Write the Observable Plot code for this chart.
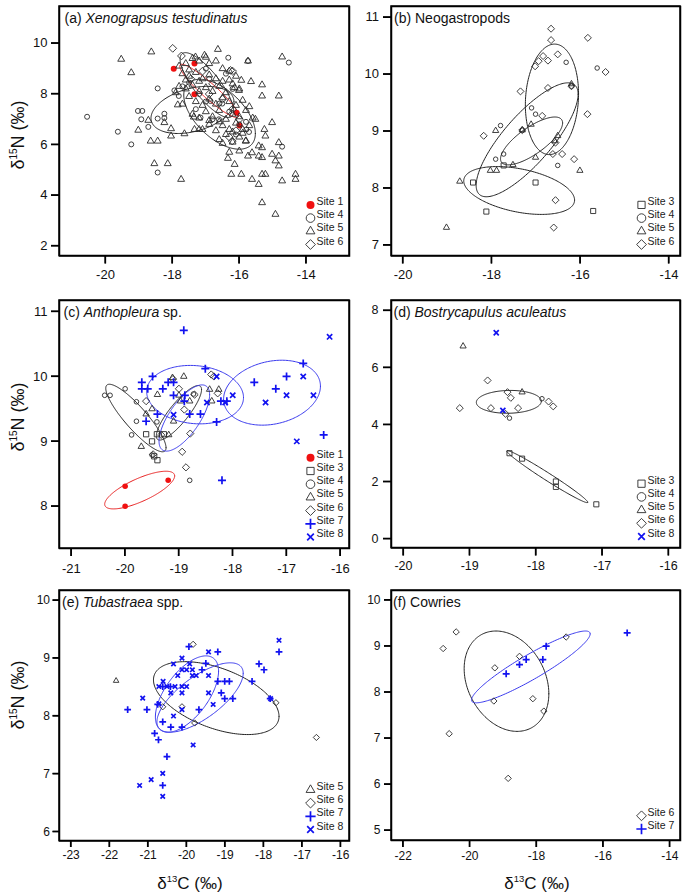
<!DOCTYPE html>
<html><head><meta charset="utf-8">
<script src="https://cdn.jsdelivr.net/npm/d3@7"></script>
<script src="https://cdn.jsdelivr.net/npm/@observablehq/plot@0.6"></script>
<style>
body{margin:0;background:#fff;}
#wrap{position:relative;width:685px;height:896px;overflow:hidden;font-family:"Liberation Sans",Arial,sans-serif;}
#wrap > svg{position:absolute;}
</style></head><body><div id="wrap"></div>
<script>
// ---------- DATA (δ13C, δ15N) ----------
const a_s1 = [[-17.96,9.0],[-17.34,9.2],[-17.34,7.99],[-16.08,7.26],[-15.99,6.76]];
const a_s4 = [[-20.55,7.1],[-19.63,6.51],[-19.23,6.01],[-19.03,7.33],[-18.9,7.33],[-18.93,7.0],[-18.72,6.7],[-18.44,8.22],[-18.44,7.03],[-18.44,4.9],[-18.24,7.22],[-18.24,7.05],[-17.94,8.14],[-17.81,7.92],[-16.33,9.43],[-14.52,9.24],[-15.74,9.3],[-15.79,6.6],[-15.71,6.5],[-14.72,5.92],[-16.51,7.62],[-16.6,7.62],[-16.86,7.72],[-17.16,7.07],[-16.61,7.0],[-17.5,8.45],[-17.2,8.0],[-16.9,8.6],[-16.3,7.3],[-16.8,7.0],[-16.0,6.8],[-17.0,7.7],[-16.4,8.8],[-15.8,6.9],[-16.1,6.4],[-17.3,7.4],[-17.7,8.3],[-17.0,9.0],[-16.2,8.2]];
const a_s5 = [[-19.53,9.37],[-19.23,8.84],[-18.63,9.66],[-19.02,6.57],[-18.72,6.96],[-18.65,6.14],[-18.44,6.14],[-18.54,5.25],[-18.14,5.25],[-18.24,6.87],[-18.04,6.63],[-18.04,6.34],[-17.74,4.63],[-17.64,6.43],[-17.84,7.57],[-17.36,7.09],[-17.34,6.6],[-17.2,6.6],[-16.64,9.76],[-17.04,9.53],[-17.31,9.46],[-15.74,9.3],[-14.72,9.46],[-15.65,8.49],[-15.32,8.36],[-15.32,7.92],[-14.82,7.92],[-15.94,8.54],[-16.14,8.25],[-16.01,8.14],[-15.52,7.0],[-15.02,6.87],[-15.22,6.34],[-15.25,6.6],[-15.42,5.95],[-15.32,5.88],[-15.42,5.55],[-15.32,5.49],[-15.62,5.68],[-15.74,5.55],[-15.02,5.62],[-14.82,6.08],[-14.82,5.55],[-14.92,5.36],[-14.82,5.16],[-14.72,4.57],[-14.32,4.83],[-14.32,4.63],[-15.22,4.83],[-15.32,4.83],[-15.62,4.63],[-15.42,4.43],[-15.94,4.83],[-16.24,4.83],[-16.14,5.22],[-16.34,5.46],[-15.32,3.71],[-14.92,3.25],[-15.81,6.14],
[-17.6,9.2],[-17.4,9.4],[-17.2,9.3],[-17.0,9.45],[-16.9,9.2],[-16.7,9.3],[-16.5,9.0],[-16.3,8.9],[-17.8,9.1],[-17.5,8.95],
[-17.7,8.8],[-17.5,8.7],[-17.3,8.85],[-17.1,8.6],[-16.9,8.75],[-16.7,8.6],[-16.5,8.5],[-16.3,8.55],[-16.1,8.7],[-17.6,8.55],[-17.2,8.5],
[-17.8,8.3],[-17.6,8.2],[-17.4,8.35],[-17.2,8.1],[-17.0,8.25],[-16.8,8.1],[-16.6,8.3],[-16.4,8.05],[-16.2,8.4],[-16.0,8.2],[-17.9,8.05],
[-17.5,7.9],[-17.3,7.7],[-17.1,7.55],[-16.9,7.8],[-16.7,7.6],[-16.5,7.85],[-16.3,7.7],[-16.1,7.55],[-15.9,7.75],[-15.7,7.5],[-17.7,7.6],
[-17.4,7.2],[-17.2,7.05],[-17.0,7.3],[-16.8,7.1],[-16.6,7.35],[-16.4,7.0],[-16.2,7.2],[-16.0,7.1],[-15.8,7.35],[-15.6,7.05],[-16.9,6.95],
[-17.1,6.6],[-16.9,6.8],[-16.7,6.55],[-16.5,6.75],[-16.3,6.6],[-16.1,6.85],[-15.9,6.6],[-15.7,6.75],[-16.6,6.9],[-16.2,6.5],
[-16.6,6.2],[-16.4,6.4],[-16.2,6.1],[-16.0,6.3],[-15.8,6.15],[-16.5,6.05],[-15.9,6.45],[-16.3,5.7],[-16.0,5.75]];
const a_s6 = [[-17.99,9.8],[-17.73,9.5],[-16.26,8.93],[-16.21,6.14],[-17.1,8.9],[-16.8,8.4],[-16.5,7.8],[-16.2,7.4],[-16.0,7.0],[-16.3,6.3],[-16.1,6.55],[-17.45,8.6],[-16.9,8.0],[-16.2,8.9]];

const b_s3 = [[-18.42,8.1],[-17.73,8.4],[-17.01,8.1],[-18.12,7.59],[-15.71,7.6]];
const b_s4 = [[-16.32,10.21],[-15.62,10.11],[-17.1,9.41],[-17.01,9.3],[-17.8,9.1],[-17.91,8.51],[-17.73,8.6],[-16.51,8.4],[-17.31,9.02],[-16.2,9.79]];
const b_s5 = [[-16.2,9.83],[-17.91,9.01],[-17.31,9.02],[-17.11,9.12],[-16.51,8.92],[-16.58,8.83],[-17.01,8.54],[-17.52,8.41],[-17.89,8.31],[-18.03,8.31],[-18.72,8.12],[-16.01,8.31],[-19.02,7.31]];
const b_s6 = [[-16.66,10.8],[-16.66,10.6],[-15.83,10.64],[-16.51,10.35],[-16.84,10.32],[-16.94,10.23],[-16.73,10.24],[-17.02,10.14],[-15.43,10.04],[-16.2,9.79],[-16.73,9.76],[-17.35,9.7],[-15.84,9.3],[-16.86,9.27],[-18.18,8.92],[-17.31,9.02],[-16.56,8.8],[-16.41,8.6],[-16.14,8.51],[-16.62,8.6],[-16.56,7.79],[-16.6,7.31]];

const c_s1 = [[-20.0,8.31],[-20.0,8.0],[-19.2,8.4]];
const c_s3 = [[-19.61,9.11],[-19.5,9.0],[-19.41,9.11],[-19.28,9.11],[-19.4,8.71],[-19.46,8.77]];
const c_s4 = [[-20.38,9.71],[-20.28,9.71],[-20.0,9.81],[-19.79,9.61],[-19.79,9.31],[-19.88,9.1],[-19.41,9.3],[-19.5,8.79],[-18.8,8.4],[-18.73,9.73]];
const c_s5 = [[-19.4,9.72],[-19.61,9.42],[-19.5,9.5],[-19.7,8.92],[-19.1,9.31],[-18.91,10.0],[-19.12,9.98],[-19.0,9.71],[-18.8,9.62],[-18.97,9.62],[-19.19,9.1],[-18.43,9.8],[-18.26,9.8],[-18.39,9.62]];
const c_s6 = [[-19.61,9.62],[-19.11,9.96],[-19.0,9.81],[-18.9,9.49],[-18.71,9.72],[-18.79,9.12],[-18.94,8.84],[-18.87,8.6],[-18.4,10.03],[-18.35,10.0],[-18.28,9.74],[-19.33,9.1],[-19.48,8.8]];
const c_s7 = [[-18.91,10.71],[-19.69,9.91],[-19.69,9.81],[-19.58,9.81],[-19.49,10.0],[-19.61,9.31],[-19.4,9.42],[-19.3,9.81],[-19.2,9.91],[-19.1,9.91],[-19.1,9.71],[-18.9,9.62],[-18.89,9.71],[-18.8,9.42],[-18.6,9.42],[-18.51,10.12],[-18.3,9.3],[-18.22,9.62],[-18.11,9.62],[-17.6,9.91],[-17.2,9.81],[-17.0,10.0],[-16.69,10.2],[-16.31,9.1],[-18.2,8.4]];
const c_s8 = [[-18.48,9.6],[-18.3,10.0],[-18.14,9.6],[-18.0,9.71],[-17.39,9.6],[-17.0,9.71],[-16.69,10.0],[-16.5,9.71],[-16.81,9.0],[-16.2,10.61],[-19.1,9.41]];

const d_s3 = [[-18.4,3.0],[-18.21,2.81],[-17.7,2.01],[-17.7,1.82],[-17.09,1.21]];
const d_s4 = [[-17.91,4.91],[-18.4,4.23]];
const d_s5 = [[-19.1,6.75],[-18.21,5.14]];
const d_s6 = [[-18.73,5.55],[-19.15,4.58],[-18.43,5.14],[-18.38,4.94],[-18.68,4.58],[-18.27,4.58],[-17.81,4.81],[-17.74,4.64],[-18.46,4.38]];
const d_s8 = [[-18.6,7.22],[-18.5,4.5]];

const e_s5 = [[-21.83,8.61]];
const e_s6 = [[-19.83,9.24],[-20.62,8.16],[-20.12,8.16],[-19.79,7.88],[-17.68,8.23],[-16.63,7.63]];
const e_s7 = [[-21.53,8.11],[-21.03,8.11],[-20.75,8.2],[-20.62,8.51],[-20.62,7.9],[-20.41,7.81],[-20.12,7.81],[-20.83,7.7],[-20.73,7.59],[-20.51,7.3],[-20.62,6.8],[-19.94,9.2],[-19.68,8.11],[-19.6,8.8],[-19.5,8.91],[-19.19,9.11],[-19.19,8.6],[-19.01,8.6],[-18.89,8.6],[-19.1,8.4],[-19.01,8.3],[-18.8,8.3],[-18.3,8.6],[-18.12,8.9],[-17.99,8.8],[-17.6,9.11],[-20.42,8.51],[-17.83,8.3]];
const e_s8 = [[-20.12,9.0],[-20.34,8.9],[-20.23,8.7],[-20.0,8.8],[-20.12,8.8],[-19.85,8.8],[-19.92,8.9],[-19.85,8.7],[-19.75,8.7],[-19.43,9.11],[-19.43,8.7],[-19.43,8.4],[-19.31,8.2],[-20.61,8.6],[-20.72,8.51],[-20.51,8.51],[-20.41,8.4],[-20.12,8.51],[-20.0,8.51],[-20.12,8.4],[-20.12,8.11],[-20.34,8.0],[-20.72,8.21],[-21.14,8.31],[-19.83,7.5],[-20.62,7.01],[-20.92,6.9],[-21.22,6.8],[-20.62,6.61],[-17.6,9.31],[-17.82,8.3],[-20.3,8.51]];

const f_s6 = [[-20.41,9.31],[-20.8,8.95],[-19.25,8.53],[-18.51,8.78],[-19.28,7.81],[-18.11,7.86],[-17.78,7.59],[-17.11,9.2],[-20.62,7.1],[-18.85,6.13]];
const f_s7 = [[-18.91,8.4],[-18.51,8.6],[-18.31,8.71],[-17.81,8.71],[-17.71,9.0],[-15.28,9.29]];

// ellipse parameters: [centre δ13C, centre δ15N, half-width, half-height, correlation]
const a_ell = [["Site 4",[-17.4,7.37,1.24,0.93,0.35]],["Site 5",[-16.97,8.35,0.8,1.28,-0.8]],["Site 6",[-16.59,7.2,1.07,1.38,-0.55]],["Site 1",[-16.9,8.12,0.88,1.05,-0.93]]];
const b_ell = [["Site 6",[-16.64,9.56,0.6,0.97,0.1]],["Site 4",[-17.2,8.85,1.15,1.0,0.8]],["Site 5",[-17.1,8.83,0.7,0.42,0.75]],["Site 3",[-17.38,7.96,1.25,0.42,-0.4]]];
const c_ell = [["Site 4",[-19.8,9.36,0.56,0.52,-0.88]],["Site 5",[-19.0,9.44,0.42,0.42,0.85]],["Site 7",[-18.7,9.72,0.9,0.45,-0.1]],["Site 7",[-18.9,9.36,0.47,0.51,0.7]],["Site 8",[-17.27,9.75,0.9,0.5,0.2]],["Site 1",[-19.73,8.25,0.65,0.29,0.75]]];
const d_ell = [["Site 6",[-18.41,4.8,0.49,0.4,0.05]],["Site 3",[-17.83,2.18,0.61,0.91,-0.985]]];
const e_ell = [["Site 6",[-19.23,8.31,1.63,0.63,-0.5]],["Site 8",[-19.99,8.38,0.82,0.66,0.6]],["Site 7",[-19.65,8.32,1.12,0.6,0.7]]];
const f_ell = [["Site 6",[-18.9,8.24,1.27,1.09,-0.25]],["Site 7",[-18.17,8.55,1.78,0.78,0.92]]];

// tick labels
const a_xt=[-20,-18,-16,-14], a_yt=[2,4,6,8,10];
const b_xt=[-20,-18,-16,-14], b_yt=[7,8,9,10,11];
const c_xt=[-21,-20,-19,-18,-17,-16], c_yt=[8,9,10,11];
const d_xt=[-20,-19,-18,-17,-16], d_yt=[0,2,4,6,8];
const e_xt=[-23,-22,-21,-20,-19,-18,-17,-16], e_yt=[6,7,8,9,10];
const f_xt=[-22,-20,-18,-16,-14], f_yt=[5,6,7,8,9,10];

// ---------- STYLE ----------
const FONT = "'Liberation Sans', Arial, sans-serif";
const INK = "#2a2a2a", BLUE = "#1212f0", RED = "#f01010";
const sty = {
  "Site 1": {symbol:"circle", fill:RED, stroke:"none", sw:0, r:3, lr:4},
  "Site 3": {symbol:"square2", fill:"none", stroke:INK, sw:0.9, r:3.6, lr:4.6},
  "Site 4": {symbol:"circle", fill:"none", stroke:INK, sw:0.9, r:2.5, lr:4.3},
  "Site 5": {symbol:"triangle2", fill:"none", stroke:INK, sw:0.9, r:3.3, lr:4.2},
  "Site 6": {symbol:"diamond2", fill:"none", stroke:INK, sw:0.9, r:3.5, lr:4.4},
  "Site 7": {symbol:"plus", fill:"none", stroke:BLUE, sw:1.7, r:2.9, lr:3.4},
  "Site 8": {symbol:"times", fill:"none", stroke:BLUE, sw:1.7, r:2.7, lr:3.1}
};
const ellColor = s => s === "Site 1" ? "#e82020" : (s === "Site 7" || s === "Site 8") ? "#3a3aee" : "#222";

function ellipsePts([cx, cy, sx, sy, rho]) {
  const k = Math.sqrt(1 - rho * rho);
  return d3.range(0, 201).map(i => {
    const t = i / 200 * 2 * Math.PI;
    return {x: cx + sx * Math.cos(t), y: cy + sy * (rho * Math.cos(t) + k * Math.sin(t))};
  });
}

const wrap = document.getElementById("wrap");

function panel(p) {
  const mL = 50, mT = 6, mR = 6, mB = 40;
  const [L, T, R, B] = p.box;
  const marks = [];
  for (const [site, e] of p.ell)
    marks.push(Plot.line(ellipsePts(e), {x: "x", y: "y", stroke: ellColor(site), strokeWidth: 1}));
  for (const [site, data] of p.series) {
    const s = sty[site];
    marks.push(Plot.dot(data, {x: d => d[0], y: d => d[1], symbol: s.symbol, r: s.r * p.k,
      fill: s.fill, stroke: s.stroke, strokeWidth: s.sw}));
  }
  const n = p.series.length;
  p.series.forEach(([site], i) => {
    const s = sty[site];
    const dy = -(11.5 + 13.2 * (n - 1 - i));
    marks.push(Plot.dot([site], {frameAnchor: "bottom-right", dx: -39, dy, symbol: s.symbol, r: s.lr,
      fill: s.fill, stroke: s.stroke, strokeWidth: s.sw}));
    marks.push(Plot.text([site], {frameAnchor: "bottom-right", dx: -33, dy, textAnchor: "start",
      fontSize: 10.5, fill: "#222"}));
  });
  marks.push(Plot.axisX({ticks: p.xt, tickSize: p.ts, tickPadding: p.tpx, tickFormat: d => String(d),
    fontSize: p.fs, label: null, stroke: "#000", strokeWidth: 1.3}));
  marks.push(Plot.axisY({ticks: p.yt, tickSize: p.ts, tickPadding: p.tpy, tickFormat: d => String(d),
    fontSize: p.fs, label: null, stroke: "#000", strokeWidth: 1.3}));
  marks.push(Plot.frame({stroke: "#000", strokeWidth: 1.5}));
  const svg = Plot.plot({
    width: R - L + mL + mR, height: B - T + mT + mB,
    marginLeft: mL, marginTop: mT, marginRight: mR, marginBottom: mB,
    x: {domain: p.xd}, y: {domain: p.yd},
    style: {fontFamily: FONT, fontSize: p.fs + "px", background: "transparent", overflow: "visible", color: "#111"},
    marks
  });
  svg.style.left = (L - mL) + "px";
  svg.style.top = (T - mT) + "px";
  // frame and ticks re-stroked explicitly, positioned by the plot's own scales
  const xs = svg.scale("x"), ys = svg.scale("y");
  const g = d3.select(svg).append("g").attr("stroke", "#000").attr("fill", "none");
  const x0 = xs.apply(p.xd[0]), x1 = xs.apply(p.xd[1]), y0 = ys.apply(p.yd[0]), y1 = ys.apply(p.yd[1]);
  g.append("path").attr("stroke-width", 1.5)
    .attr("d", `M${x0},${y1}H${x1}V${y0}H${x0}Z`);
  for (const v of p.xt) {
    const px = xs.apply(v);
    g.append("path").attr("stroke-width", 1.3).attr("d", `M${px},${y0}V${y0 + p.ts}`);
  }
  for (const v of p.yt) {
    const py = ys.apply(v);
    g.append("path").attr("stroke-width", 1.3).attr("d", `M${x0},${py}H${x0 - p.ts}`);
  }
  const t = d3.select(svg).append("text")
    .attr("x", mL + p.tdx).attr("y", mT + 16.5).attr("text-anchor", "start")
    .attr("font-size", 14).attr("font-family", FONT).attr("fill", "#111");
  for (const [s, it] of p.title) t.append("tspan").attr("font-style", it ? "italic" : null).text(s);
  wrap.appendChild(svg);
}

panel({box:[59,5.5,349,255], xd:[-21.375,-12.706], yd:[1.605,11.452], xt:a_xt, yt:a_yt, fs:13, ts:8, tpx:6, tpy:4, k:1, tdx:5.5,
  title:[["(a) ",0],["Xenograpsus testudinatus",1]],
  series:[["Site 1",a_s1],["Site 4",a_s4],["Site 5",a_s5],["Site 6",a_s6]], ell:a_ell});
panel({box:[391,5.5,680,255], xd:[-20.26,-13.74], yd:[6.81,11.19], xt:b_xt, yt:b_yt, fs:13, ts:8, tpx:6, tpy:4.5, k:0.9, tdx:3,
  title:[["(b) Neogastropods",0]],
  series:[["Site 3",b_s3],["Site 4",b_s4],["Site 5",b_s5],["Site 6",b_s6]], ell:b_ell});
panel({box:[59,300,349,548], xd:[-21.22,-15.83], yd:[7.35,11.17], xt:c_xt, yt:c_yt, fs:13, ts:8, tpx:7, tpy:4, k:0.93, tdx:4.5,
  title:[["(c) ",0],["Anthopleura",1],[" sp.",0]],
  series:[["Site 1",c_s1],["Site 3",c_s3],["Site 4",c_s4],["Site 5",c_s5],["Site 6",c_s6],["Site 7",c_s7],["Site 8",c_s8]], ell:c_ell});
panel({box:[391,300,680,547.5], xd:[-20.18,-15.82], yd:[-0.32,8.35], xt:d_xt, yt:d_yt, fs:12.5, ts:8, tpx:5.5, tpy:5, k:0.9, tdx:2.5,
  title:[["(d) ",0],["Bostrycapulus aculeatus",1]],
  series:[["Site 3",d_s3],["Site 4",d_s4],["Site 5",d_s5],["Site 6",d_s6],["Site 8",d_s8]], ell:d_ell});
panel({box:[59,589.5,349,840], xd:[-23.3,-15.77], yd:[5.84,10.17], xt:e_xt, yt:e_yt, fs:12, ts:6.5, tpx:3, tpy:3, k:0.8, tdx:3,
  title:[["(e) ",0],["Tubastraea",1],[" spp.",0]],
  series:[["Site 5",e_s5],["Site 6",e_s6],["Site 7",e_s7],["Site 8",e_s8]], ell:e_ell});
panel({box:[391,589.5,680,839.5], xd:[-22.35,-13.68], yd:[4.78,10.21], xt:f_xt, yt:f_yt, fs:12, ts:7, tpx:3.5, tpy:4, k:0.82, tdx:2,
  title:[["(f) Cowries",0]],
  series:[["Site 6",f_s6],["Site 7",f_s7]], ell:f_ell});

// axis titles overlay
const ov = d3.select(wrap).append("svg").attr("width", 685).attr("height", 896)
  .style("left", "0px").style("top", "0px").style("pointer-events", "none");
for (const cy of [135, 417, 695]) {
  const t = ov.append("text").attr("transform", `translate(24,${cy}) rotate(-90)`)
    .attr("text-anchor", "middle").attr("font-family", FONT).attr("font-size", 18).attr("fill", "#111");
  t.append("tspan").text("δ");
  t.append("tspan").attr("font-size", 10).attr("dy", -7.5).text("15");
  t.append("tspan").attr("dy", 7.5).text("N (‰)");
}
for (const cx of [190, 537]) {
  const t = ov.append("text").attr("x", cx).attr("y", 889)
    .attr("text-anchor", "middle").attr("font-family", FONT).attr("font-size", 17).attr("fill", "#111");
  t.append("tspan").text("δ");
  t.append("tspan").attr("font-size", 9.5).attr("dy", -7).text("13");
  t.append("tspan").attr("dy", 7).text("C (‰)");
}
</script></body></html>
